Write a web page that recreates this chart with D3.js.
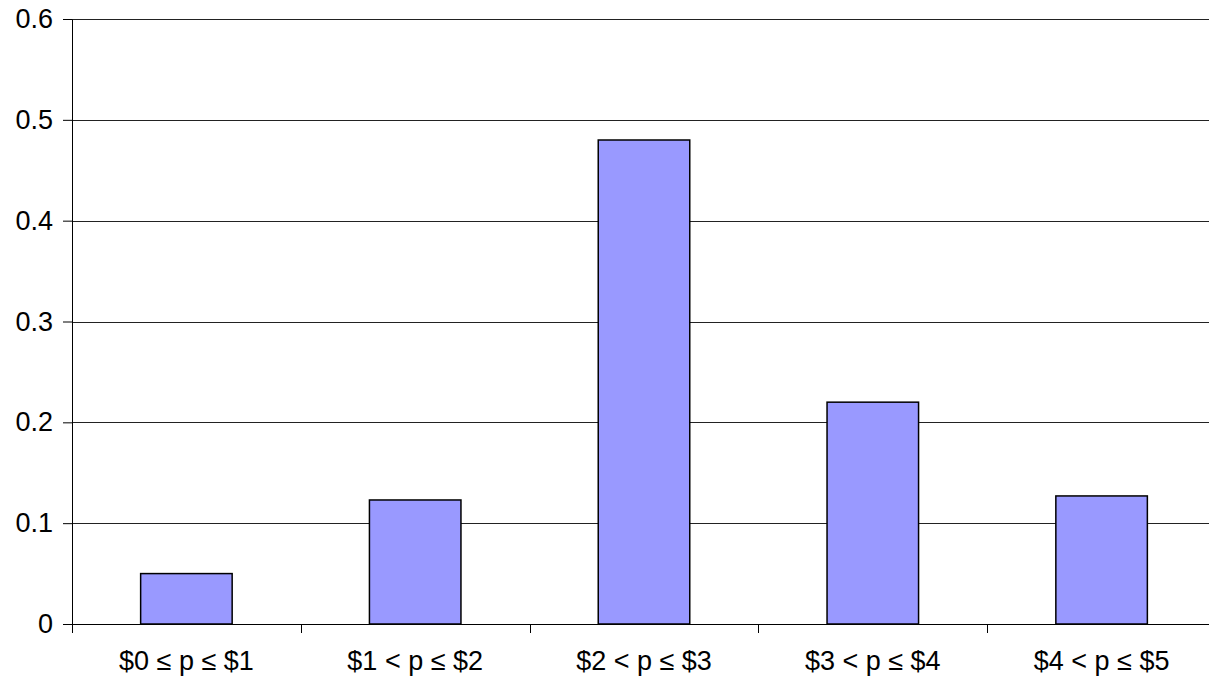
<!DOCTYPE html>
<html>
<head>
<meta charset="utf-8">
<script src="https://cdn.jsdelivr.net/npm/d3@7"></script>
<style>
  html, body { margin: 0; padding: 0; background: #fff; }
  svg { display: block; }
  text { font-family: 'Liberation Sans', Arial, sans-serif; fill: #000; }
</style>
</head>
<body>
<svg id="chart" width="1209" height="683"></svg>
<script>
// data
const categories = ['$0 ≤ p ≤ $1', '$1 < p ≤ $2', '$2 < p ≤ $3', '$3 < p ≤ $4', '$4 < p ≤ $5']
const values = [0.05, 0.123, 0.48, 0.22, 0.127]
const yTicks = [0, 0.1, 0.2, 0.3, 0.4, 0.5, 0.6]

const width = 1209
const height = 683
const margin = { top: 19, right: -7, bottom: 59, left: 72 }
const chartWidth = width - margin.left - margin.right
const chartHeight = height - margin.top - margin.bottom
const fontSize = 27

const svg = d3.select('#chart')

svg.append('rect')
  .attr('width', width)
  .attr('height', height)
  .attr('fill', '#fff')

const vizGroup = svg.append('g')
  .attr('transform', `translate(${margin.left},${margin.top})`)

const x = d3.scaleBand().domain(categories).range([0, chartWidth]).padding(0)
const y = d3.scaleLinear().domain([0, 0.6]).range([chartHeight, 0])

// gridlines
vizGroup.append('g')
  .selectAll('line')
  .data(yTicks.filter((d) => d > 0))
  .join('line')
  .attr('x1', 0)
  .attr('x2', chartWidth)
  .attr('y1', (d) => Math.round(y(d)) + 0.5)
  .attr('y2', (d) => Math.round(y(d)) + 0.5)
  .attr('stroke', '#222')
  .attr('stroke-width', 1)

// bars
const barWidth = x.bandwidth() * 0.4
vizGroup.append('g')
  .selectAll('rect')
  .data(values)
  .join('rect')
  .attr('x', (d, i) => x(categories[i]) + (x.bandwidth() - barWidth) / 2)
  .attr('y', (d) => y(d))
  .attr('width', barWidth)
  .attr('height', (d) => chartHeight - y(d))
  .attr('fill', '#9999ff')
  .attr('stroke', '#000')
  .attr('stroke-width', 1.5)

// y axis
const yAxis = vizGroup.append('g')
  .call(d3.axisLeft(y).tickValues(yTicks).tickSize(9).tickPadding(10).tickFormat(d3.format('~g')))
yAxis.select('.domain').attr('d', `M0.5,${chartHeight + 9}V0.5`).attr('stroke', '#000')
yAxis.selectAll('.tick line').attr('stroke', '#000')
yAxis.selectAll('text').attr('font-size', fontSize).attr('font-family', "'Liberation Sans', Arial, sans-serif")

// x axis
const xAxis = vizGroup.append('g')
  .attr('transform', `translate(0,${chartHeight})`)
  .call(d3.axisBottom(x).tickSize(0).tickPadding(27))
xAxis.select('.domain').attr('d', `M-9,0.5H${chartWidth}`).attr('stroke', '#000')
xAxis.selectAll('text').attr('font-size', fontSize).attr('font-family', "'Liberation Sans', Arial, sans-serif")

// category boundary ticks
xAxis.append('g')
  .selectAll('line')
  .data(categories.slice(1))
  .join('line')
  .attr('x1', (d) => Math.round(x(d)) + 0.5)
  .attr('x2', (d) => Math.round(x(d)) + 0.5)
  .attr('y1', 0)
  .attr('y2', 9)
  .attr('stroke', '#000')
</script>
</body>
</html>
